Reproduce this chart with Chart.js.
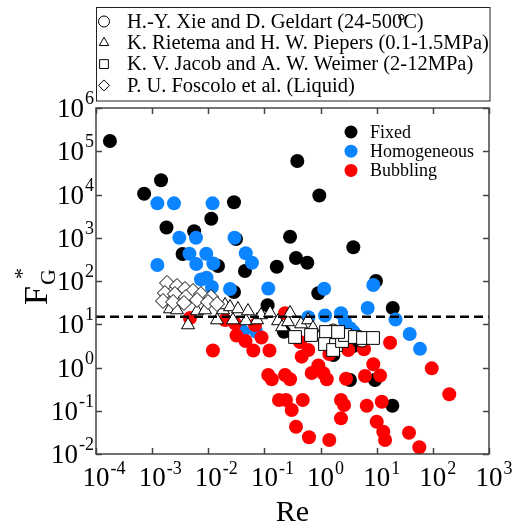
<!DOCTYPE html>
<html>
<head>
<meta charset="utf-8">
<script src="https://cdn.jsdelivr.net/npm/chart.js@4/dist/chart.umd.min.js"></script>
<style>
  body { margin: 0; background: #fff; }
  #chart { display: block; }
</style>
</head>
<body>
<canvas id="chart" width="516" height="527"></canvas>
<script>
// Data (Re, F_G*)
const fixedRe = [1.77e-4, 7.2e-4, 1.44e-3, 1.8e-3, 5.6e-3, 1.13e-2, 2.87e-2, 3.48e-3, 1.49e-2, 4.5e-2, 0.166, 0.286, 0.385, 0.95, 0.365, 0.58, 0.0312, 0.0287, 0.912, 0.114, 3.83, 9.7, 19.3, 3.34, 9.33, 19.0, 3.83, 1.69, 0.223];
const fixedF = [1.73e5, 1.04e4, 2.13e4, 1730, 1410, 2740, 6600, 421, 222, 170, 214, 1057, 5.96e4, 9500, 340, 265, 935, 55.7, 52, 27.4, 601, 100, 23.8, 0.514, 0.514, 0.131, 3.14, 1.95, 6.7];

const homoRe = [1.24e-3, 2.45e-3, 1.19e-2, 3.05e-3, 6.04e-3, 2.93e-2, 4.62e-3, 9.2e-3, 4.65e-2, 1.24e-3, 6.1e-3, 1.23e-2, 6.0e-2, 7.4e-3, 9.3e-3, 1.16e-2, 2.44e-2, 0.117, 1.16, 0.605, 1.2, 2.31, 2.72, 3.34, 3.83, 6.9, 8.7, 21.6, 38.7, 59, 4.15e-2, 7.08e-2];
const homoF = [6250, 6250, 6250, 1000, 1000, 1000, 428, 428, 437, 234, 247, 254, 264, 108, 119, 72.6, 65.3, 67.1, 66, 14.5, 15.9, 17.9, 11.5, 8.05, 6.7, 23.8, 80.8, 12.9, 5.96, 2.7, 6.8, 6.8];

const bubRe = [4.72e-3, 1.21e-2, 1.99e-2, 2.99e-2, 3.18e-2, 4.6e-2, 6.34e-2, 8.87e-2, 6.8e-2, 0.123, 0.117, 0.135, 0.233, 0.286, 0.182, 0.242, 0.306, 0.481, 0.365, 0.622, 1.43, 0.233, 0.461, 0.605, 0.43, 0.695, 0.912, 1.12, 1.29, 2.31, 2.62, 2.31, 2.84, 6.19, 8.7, 11.5, 6.64, 12.3, 10, 13.1, 14.1, 37.6, 57.4, 17.3, 95.5, 196, 1.43, 3.12, 5.94];
const bubF = [14.0, 2.47, 12.5, 10.5, 5.5, 4.1, 2.47, 4.94, 9.6, 2.47, 0.671, 0.533, 0.671, 0.533, 0.177, 0.177, 0.104, 0.177, 0.0428, 0.0243, 0.0211, 17.9, 1.78, 2.54, 3.89, 0.746, 1.11, 0.734, 0.533, 0.177, 0.136, 0.0668, 0.551, 0.635, 1.19, 0.65, 0.131, 0.162, 0.0558, 0.0328, 0.0211, 0.0311, 0.0143, 3.74, 0.957, 0.24, 2.05, 2.54, 2.64];

const xieRe = [1.67, 2.96, 5.47];
const xieF = [6.98, 5.07, 4.32];

const rietemaRe = [2.08e-3, 2.77e-3, 4.36e-3, 6.3e-3, 8.75e-3, 1.43e-2, 1.83e-2, 1.99e-2, 2.44e-2, 2.75e-2, 3.38e-2, 4.7e-2, 5.1e-2, 7.4e-2, 8.7e-2, 0.126, 0.175, 0.206, 0.263, 0.286, 0.449, 0.6, 0.733];
const rietemaF = [22.5, 21.3, 9.6, 20.2, 21.3, 12.5, 21.3, 27.9, 25.1, 12.5, 22.5, 11.9, 20.2, 12.5, 16.4, 18.2, 11.9, 8.6, 11.3, 18.2, 10.1, 12.5, 8.2];

const jacobRe = [0.351, 0.676, 1.25, 1.2, 1.88, 1.67, 2.41, 2.72, 4.1, 5.7, 8.6, 2.05];
const jacobF = [5.07, 5.64, 6.62, 3.49, 3.31, 2.54, 4.1, 5.64, 5.07, 4.81, 4.81, 6.62];

const foscoloRe = [1.84e-3, 2.77e-3, 3.85e-3, 5.35e-3, 7.4e-3, 1.12e-2, 1.69e-3, 2.55e-3, 4.0e-3, 6.3e-3, 9.9e-3, 1.43e-2, 1.56e-3, 2.36e-3, 3.69e-3];
const foscoloF = [90, 76.6, 65.3, 58.7, 50, 42.7, 52.7, 50, 42.7, 36.4, 32.7, 29.4, 34.5, 32.7, 31];

const criticalF = 15;

// Axis decades
const xExponents = [-4, -3, -2, -1, 0, 1, 2, 3];
const yExponents = [-2, -1, 0, 1, 2, 3, 4, 5, 6];

const seriesLegend = ['Fixed', 'Homogeneous', 'Bubbling'];
const seriesColors = ['#000000', '#0A84FF', '#FF0000'];
const sourceLegend = [
  'H.-Y. Xie and D. Geldart (24-500\u00B0C)',
  'K. Rietema and H. W. Piepers (0.1-1.5MPa)',
  'K. V. Jacob and A. W. Weimer (2-12MPa)',
  'P. U. Foscolo et al. (Liquid)'
];
const sourceShapes = ['circle', 'triangle', 'rect', 'rectRot'];

const SERIF = '"Liberation Serif", "Times New Roman", serif';

function toPoints(xs, ys) {
  return xs.map((x, i) => ({ x: x, y: ys[i] }));
}

function hollow(label, xs, ys, style, radius) {
  return {
    label: label,
    data: toPoints(xs, ys),
    pointStyle: style,
    pointRadius: radius,
    backgroundColor: '#ffffff',
    borderColor: '#000000',
    borderWidth: 1
  };
}

function filled(label, xs, ys, color) {
  return {
    label: label,
    data: toPoints(xs, ys),
    pointStyle: 'circle',
    pointRadius: 7,
    backgroundColor: color,
    borderWidth: 0
  };
}

// small shape helper for the legends
function drawShape(ctx, style, x, y, r) {
  ctx.beginPath();
  if (style === 'circle') {
    ctx.arc(x, y, r, 0, Math.PI * 2);
  } else if (style === 'triangle') {
    ctx.moveTo(x, y - r);
    ctx.lineTo(x + r * 0.866, y + r * 0.5);
    ctx.lineTo(x - r * 0.866, y + r * 0.5);
    ctx.closePath();
  } else if (style === 'rect') {
    const s = r * 0.8;
    ctx.rect(x - s, y - s, 2 * s, 2 * s);
  } else {
    ctx.moveTo(x, y - r);
    ctx.lineTo(x + r, y);
    ctx.lineTo(x, y + r);
    ctx.lineTo(x - r, y);
    ctx.closePath();
  }
}

// legend text; the degree sign is tucked over the last digit like in the original
function drawSourceText(ctx, text, x, y) {
  const k = text.indexOf('\u00B0');
  if (k < 0) {
    ctx.fillText(text, x, y);
    return;
  }
  const head = text.slice(0, k);
  ctx.fillText(head, x, y);
  const w = ctx.measureText(head).width;
  ctx.fillText('\u00B0', w + x - 5, y);
  ctx.fillText(text.slice(k + 1), w + x + 1, y);
}

const decorPlugin = {
  id: 'decor',
  afterDraw(chart) {
    const ctx = chart.ctx;
    const area = chart.chartArea;
    const xs = chart.scales.x;
    const ys = chart.scales.y;
    ctx.save();

    // frame
    ctx.strokeStyle = '#444';
    ctx.lineWidth = 1.5;
    ctx.strokeRect(area.left, area.top, area.right - area.left, area.bottom - area.top);

    // inward ticks
    ctx.beginPath();
    xExponents.forEach(e => {
      const px = Math.round(xs.getPixelForValue(Math.pow(10, e))) + 0.5;
      ctx.moveTo(px, area.bottom); ctx.lineTo(px, area.bottom - 6);
      ctx.moveTo(px, area.top); ctx.lineTo(px, area.top + 6);
    });
    yExponents.forEach(e => {
      const py = Math.round(ys.getPixelForValue(Math.pow(10, e))) + 0.5;
      ctx.moveTo(area.left, py); ctx.lineTo(area.left + 6, py);
      ctx.moveTo(area.right, py); ctx.lineTo(area.right - 6, py);
    });
    ctx.stroke();

    // tick labels 10^n
    ctx.fillStyle = '#000';
    ctx.textBaseline = 'alphabetic';
    const bigFont = '27px ' + SERIF;
    const supFont = '18px ' + SERIF;
    xExponents.forEach(e => {
      const px = xs.getPixelForValue(Math.pow(10, e));
      ctx.font = bigFont;
      const w10 = ctx.measureText('10').width;
      ctx.textAlign = 'center';
      ctx.fillText('10', px, area.bottom + 32);
      ctx.font = supFont;
      ctx.textAlign = 'left';
      ctx.fillText(String(e), px + w10 / 2 + 1, area.bottom + 20);
    });
    yExponents.forEach(e => {
      const py = ys.getPixelForValue(Math.pow(10, e));
      ctx.font = supFont;
      const sup = String(e);
      const ws = ctx.measureText(sup).width;
      ctx.textAlign = 'right';
      ctx.fillText(sup, area.left - 2, py - 4);
      ctx.font = bigFont;
      ctx.fillText('10', area.left - 3 - ws, py + 9);
    });

    // axis titles
    ctx.font = '30px ' + SERIF;
    ctx.textAlign = 'center';
    ctx.fillText('Re', (area.left + area.right) / 2, 521);

    ctx.save();
    ctx.translate(47, 305);
    ctx.rotate(-Math.PI / 2);
    ctx.textAlign = 'left';
    ctx.font = '34px ' + SERIF;
    ctx.fillText('F', 0, 0);
    const wF = ctx.measureText('F').width;
    ctx.font = '22px ' + SERIF;
    ctx.fillText('G', wF + 1, 8);
    ctx.fillText('*', wF + 7, -18);
    ctx.restore();

    // series legend inside plot
    ctx.font = '18px ' + SERIF;
    ctx.textAlign = 'left';
    ctx.textBaseline = 'middle';
    seriesLegend.forEach((name, i) => {
      const y = 132 + i * 19.2;
      ctx.fillStyle = seriesColors[i];
      ctx.beginPath();
      ctx.arc(351, y, 6.5, 0, Math.PI * 2);
      ctx.fill();
      ctx.fillStyle = '#000';
      ctx.fillText(name, 370, y + 1);
    });

    // source legend box above the plot
    ctx.fillStyle = '#fff';
    ctx.fillRect(96.5, 7, 393.5, 94);
    ctx.strokeStyle = '#222';
    ctx.lineWidth = 1;
    ctx.strokeRect(96.5, 7.5, 393.5, 93.5);
    ctx.font = '20.5px ' + SERIF;
    sourceLegend.forEach((name, i) => {
      const y = 21.5 + i * 21.3;
      ctx.fillStyle = '#fff';
      ctx.strokeStyle = '#000';
      drawShape(ctx, sourceShapes[i], 104, y, 5.5);
      ctx.fill();
      ctx.stroke();
      ctx.fillStyle = '#000';
      drawSourceText(ctx, name, 127, y + 1);
    });

    ctx.restore();
  }
};

new Chart(document.getElementById('chart'), {
  type: 'scatter',
  data: {
    datasets: [
      {
        type: 'line',
        label: 'critical',
        data: [{ x: 1e-4, y: criticalF }, { x: 1e3, y: criticalF }],
        borderColor: '#000',
        borderWidth: 2.5,
        borderDash: [9, 5],
        pointRadius: 0,
        fill: false
      },
      hollow('Foscolo', foscoloRe, foscoloF, 'rectRot', 7.5),
      hollow('Jacob', jacobRe, jacobF, 'rect', 9),
      hollow('Rietema', rietemaRe, rietemaF, 'triangle', 7.5),
      hollow('Xie', xieRe, xieF, 'circle', 7),
      filled('Bubbling', bubRe, bubF, seriesColors[2]),
      filled('Homogeneous', homoRe, homoF, seriesColors[1]),
      filled('Fixed', fixedRe, fixedF, seriesColors[0])
    ]
  },
  options: {
    responsive: false,
    animation: false,
    devicePixelRatio: 1,
    layout: { padding: { left: 96, right: 27, top: 108, bottom: 73 } },
    plugins: { legend: { display: false }, tooltip: { enabled: false } },
    scales: {
      x: { type: 'logarithmic', min: 1e-4, max: 1e3, display: false },
      y: { type: 'logarithmic', min: 1e-2, max: 1e6, display: false }
    }
  },
  plugins: [decorPlugin]
});
</script>
</body>
</html>
